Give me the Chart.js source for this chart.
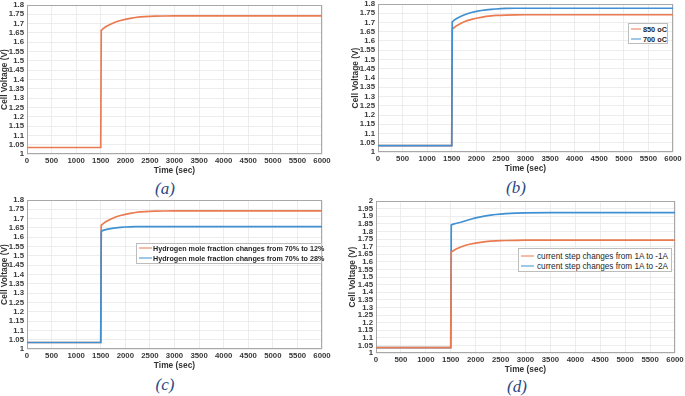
<!DOCTYPE html>
<html><head><meta charset="utf-8">
<script src="https://cdn.jsdelivr.net/npm/chart.js@4/dist/chart.umd.min.js"></script>
<style>
html,body{margin:0;padding:0;background:#fff;width:685px;height:396px;overflow:hidden;}
body{position:relative;}
canvas{position:absolute;}
.cap{position:absolute;font-family:"Liberation Serif","Times New Roman",serif;font-style:italic;font-size:17px;color:#2a4a7f;transform:translate(-50%,-50%);white-space:nowrap;line-height:1;}
.leg{position:absolute;background:#fff;border:1px solid #bdbdbd;font-family:"Liberation Sans",Arial,sans-serif;color:#262626;box-sizing:border-box;}
.row{position:absolute;left:0;display:flex;align-items:center;white-space:nowrap;line-height:1;transform:translateY(-50%);}
.sw{display:inline-block;height:1.5px;}
</style></head><body>
<script>
// ---- data ----
const times   = [0,1500,1510,1550,1600,1700,1800,1900,2000,2100,2200,2300,2400,2500,2600,2800,3000,3500,6000];
const vBase   = [1.035,1.035,1.664,1.673,1.683,1.697,1.709,1.717,1.723,1.728,1.733,1.736,1.738,1.739,1.740,1.741,1.742,1.742,1.742];
const v700C   = [1.035,1.035,1.703,1.713,1.722,1.735,1.746,1.754,1.760,1.765,1.768,1.771,1.773,1.775,1.776,1.777,1.777,1.777,1.777];
const vH2to28 = [1.035,1.035,1.632,1.637,1.641,1.646,1.650,1.653,1.655,1.656,1.657,1.657,1.657,1.657,1.657,1.657,1.657,1.657,1.657];
const vI2A    = [1.035,1.035,1.842,1.848,1.852,1.860,1.870,1.880,1.889,1.896,1.902,1.907,1.911,1.914,1.917,1.920,1.922,1.923,1.923];
const xTicks  = [0,500,1000,1500,2000,2500,3000,3500,4000,4500,5000,5500,6000];
const yTicks18 = [1,1.05,1.1,1.15,1.2,1.25,1.3,1.35,1.4,1.45,1.5,1.55,1.6,1.65,1.7,1.75,1.8];
const yTicks20 = [1,1.05,1.1,1.15,1.2,1.25,1.3,1.35,1.4,1.45,1.5,1.55,1.6,1.65,1.7,1.75,1.8,1.85,1.9,1.95,2];
const xTitle = 'Time (sec)';
const yTitle = 'Cell Voltage (V)';
const labelsB = ['850 oC','700 oC'];
const labelsC = ['Hydrogen mole fraction changes from 70% to 12%','Hydrogen mole fraction changes from 70% to 28%'];
const labelsD = ['current step changes from 1A to -1A','current step changes from 1A to -2A'];
const captions = ['(a)','(b)','(c)','(d)'];

const ORANGE = '#ea7b50', BLUE = '#4090d2';
const pts = vals => times.map((t,i)=>({x:t,y:vals[i]}));

const panels = [
 {L:27,T:5,R:322,B:154,yw:27,yTicks:yTicks18,
  series:[{label:'',v:vBase,c:ORANGE,o:0}], legend:null, cap:{x:165,y:188}},
 {L:378,T:4,R:673,B:152,yw:27,yTicks:yTicks18,
  series:[{label:labelsB[0],v:vBase,c:ORANGE,o:1},{label:labelsB[1],v:v700C,c:BLUE,o:0}],
  legend:{x:628,y:23,w:40,h:21,rows:[29,39],sw:10,font:'bold 7.3px',gap:2}, cap:{x:516,y:187}},
 {L:27,T:200,R:322,B:349,yw:27,yTicks:yTicks18,
  series:[{label:labelsC[0],v:vBase,c:ORANGE,o:1},{label:labelsC[1],v:vH2to28,c:BLUE,o:0}],
  legend:{x:136,y:243,w:186,h:21,rows:[248,258],sw:13,font:'bold 7.2px',gap:1}, cap:{x:165,y:384}},
 {L:376,T:201,R:675,B:353,yw:28,yTicks:yTicks20,
  series:[{label:labelsD[0],v:vBase,c:ORANGE,o:0},{label:labelsD[1],v:vI2A,c:BLUE,o:1}],
  legend:{x:518,y:248,w:154,h:24,rows:[256,266],sw:13,font:'8.2px',gap:3}, cap:{x:517,y:386}}
];

const boxPlugin = {
  id:'box',
  beforeDatasetsDraw(chart){
    const a = chart.chartArea, ctx = chart.ctx;
    ctx.save(); ctx.strokeStyle = '#a8a8a8'; ctx.lineWidth = 1;
    ctx.strokeRect(Math.round(a.left)+0.5, Math.round(a.top)+0.5, Math.round(a.right-a.left)-1, Math.round(a.bottom-a.top)-1);
    ctx.restore();
  }
};

const tickFont = {family:'"Liberation Sans", Arial, sans-serif', size:7.8, weight:'bold'};
const titleFont = {family:'"Liberation Sans", Arial, sans-serif', size:8.4, weight:'bold', lineHeight:1};

panels.forEach((p,idx)=>{
  const XH = 21, PT = 6, PR = 12;
  const left = p.L - p.yw, top = p.T - PT;
  const w = p.R - left + PR, h = p.B + XH - top;
  const cv = document.createElement('canvas');
  cv.width = w; cv.height = h;
  cv.style.left = left+'px'; cv.style.top = top+'px';
  cv.style.width = w+'px'; cv.style.height = h+'px';
  document.body.appendChild(cv);
  const ymin = p.yTicks[0], ymax = p.yTicks[p.yTicks.length-1];
  new Chart(cv, {
    type:'line',
    data:{datasets:p.series.map(s=>({label:s.label,data:pts(s.v),borderColor:s.c,backgroundColor:s.c,
      borderWidth:1.7,pointRadius:0,tension:0,fill:false,order:s.o}))},
    options:{
      responsive:false, animation:false, devicePixelRatio:1,
      layout:{padding:{left:0,top:PT,right:PR,bottom:0}},
      plugins:{legend:{display:false},tooltip:{enabled:false}},
      scales:{
        x:{type:'linear',min:0,max:6000,
          afterBuildTicks:s=>{s.ticks = xTicks.map(v=>({value:v}));},
          afterFit:s=>{s.height = XH; s.paddingLeft = 0; s.paddingRight = 0;},
          ticks:{font:tickFont,color:'#383838',padding:2,maxRotation:0,autoSkip:false,callback:v=>String(v)},
          grid:{color:'#e8e8e8',lineWidth:0.8,drawTicks:false},
          border:{display:false},
          title:{display:true,text:xTitle,font:titleFont,color:'#333',padding:0}},
        y:{type:'linear',min:ymin,max:ymax,
          afterBuildTicks:s=>{s.ticks = p.yTicks.map(v=>({value:v}));},
          afterFit:s=>{s.width = p.yw; s.paddingTop = 0; s.paddingBottom = 0;},
          ticks:{font:tickFont,color:'#383838',padding:3,autoSkip:false,callback:v=>String(+(+v).toFixed(2))},
          grid:{color:'#e8e8e8',lineWidth:0.8,drawTicks:false},
          border:{display:false},
          title:{display:true,text:yTitle,font:titleFont,color:'#333',padding:0}}
      }
    },
    plugins:[boxPlugin]
  });
  // legend (HTML)
  if (p.legend){
    const lg = p.legend;
    const box = document.createElement('div');
    box.className='leg';
    box.style.left=lg.x+'px'; box.style.top=lg.y+'px'; box.style.width=lg.w+'px'; box.style.height=lg.h+'px';
    p.series.forEach((s,i)=>{
      const r = document.createElement('div'); r.className='row';
      r.style.top=(lg.rows[i]-lg.y-1)+'px'; r.style.left='2px';
      r.style.font = lg.font+' "Liberation Sans", Arial, sans-serif';
      const sw = document.createElement('span'); sw.className='sw';
      sw.style.width=lg.sw+'px'; sw.style.background=s.c; sw.style.marginRight=lg.gap+'px';
      const tx = document.createElement('span'); tx.textContent=s.label;
      r.appendChild(sw); r.appendChild(tx); box.appendChild(r);
    });
    document.body.appendChild(box);
  }
  const cp = document.createElement('div'); cp.className='cap';
  cp.style.left=p.cap.x+'px'; cp.style.top=p.cap.y+'px'; cp.textContent=captions[idx];
  document.body.appendChild(cp);
});
</script>
</body></html>
